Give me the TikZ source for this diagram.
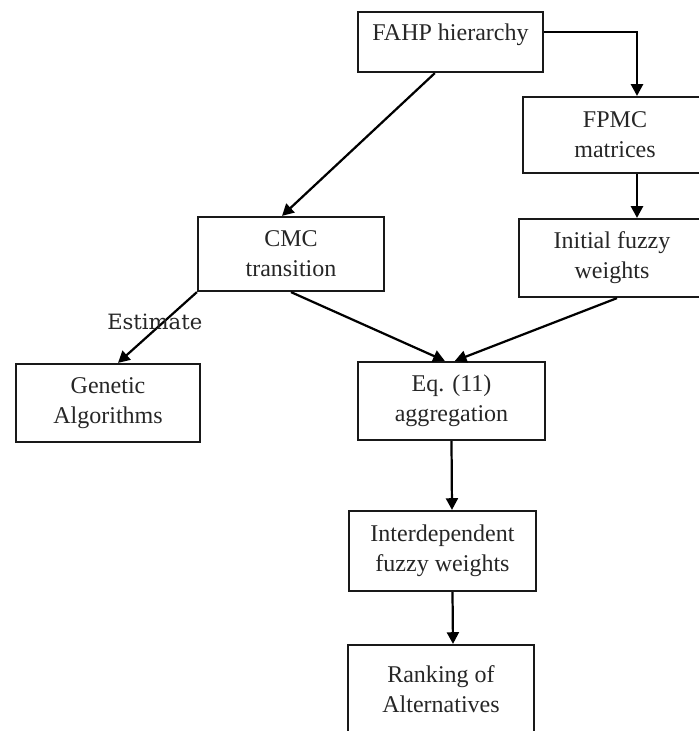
\documentclass[tikz,border=0pt]{standalone}
\usepackage{fontspec}
\setmainfont{Liberation Serif}
\newfontfamily\estimatefont{DejaVu Serif}
\usetikzlibrary{arrows.meta}

\begin{document}
\begin{tikzpicture}[
  box/.style={
    draw=black!90,
    line width=1.9pt,
    minimum width=5.58cm,
    minimum height=2.34cm,
    align=center,
    text=black!85,
    font=\fontsize{20.5}{25.5}\selectfont
  },
  line/.style={-{Triangle[length=3.5mm,width=3.6mm]}, line width=1.9pt, draw=black},
  annot/.style={font=\estimatefont\fontsize{18}{22}\selectfont, text=black!85, inner sep=0pt}
]

% page frame
\useasboundingbox (0,0) rectangle (20.97,-21.93);
\clip (0,0) rectangle (20.97,-21.93);

% FAHP hierarchy on top
\node[box, minimum width=5.55cm, minimum height=1.8cm, text depth=0.6cm] (fahp) at (13.515,-1.26) {FAHP hierarchy};

% right branch: pairwise matrices and initial weights
\node[box, minimum width=5.52cm, minimum height=2.28cm] (fpmc) at (18.45,-4.05) {FPMC\\matrices};
\node[box] (init) at (18.36,-7.74) {Initial fuzzy\\weights};
\draw[line] ([yshift=0.3cm]fahp.east) -| ([xshift=0.66cm]fpmc.north);
\draw[line] ([xshift=0.66cm]fpmc.south) -- ([xshift=0.75cm]init.north);

% left branch: CMC transition and GA
\node[box, minimum height=2.22cm] (cmc) at (8.73,-7.62) {CMC\\transition};
\node[box, minimum width=5.52cm] (ga) at (3.24,-12.09) {Genetic\\Algorithms};
\draw[line] ([xshift=-0.47cm]fahp.south) -- ([xshift=-0.27cm]cmc.north);
\draw[line] (cmc.south west) -- node[annot, pos=0.42, xshift=-0.27cm] (est) {Estimate} ([xshift=0.3cm]ga.north);

% aggregation
\node[box, minimum width=5.61cm] (eq) at (13.545,-12.03) {Eq. (11)\\aggregation};
\draw[line] (cmc.south) -- ([xshift=-0.2cm]eq.north);
\draw[line] ([xshift=0.15cm]init.south) -- ([xshift=0.1cm]eq.north);

% final weights and ranking
\node[box, minimum width=5.61cm, minimum height=2.4cm] (inter) at (13.275,-16.53) {Interdependent\\fuzzy weights};
\node[box, minimum height=2.64cm] (rank) at (13.23,-20.67) {Ranking of\\Alternatives};
\draw[line] (eq.south) -- ([xshift=0.285cm]inter.north);
\draw[line] ([xshift=0.3cm]inter.south) -- ([xshift=0.36cm]rank.north);

\end{tikzpicture}
\end{document}
